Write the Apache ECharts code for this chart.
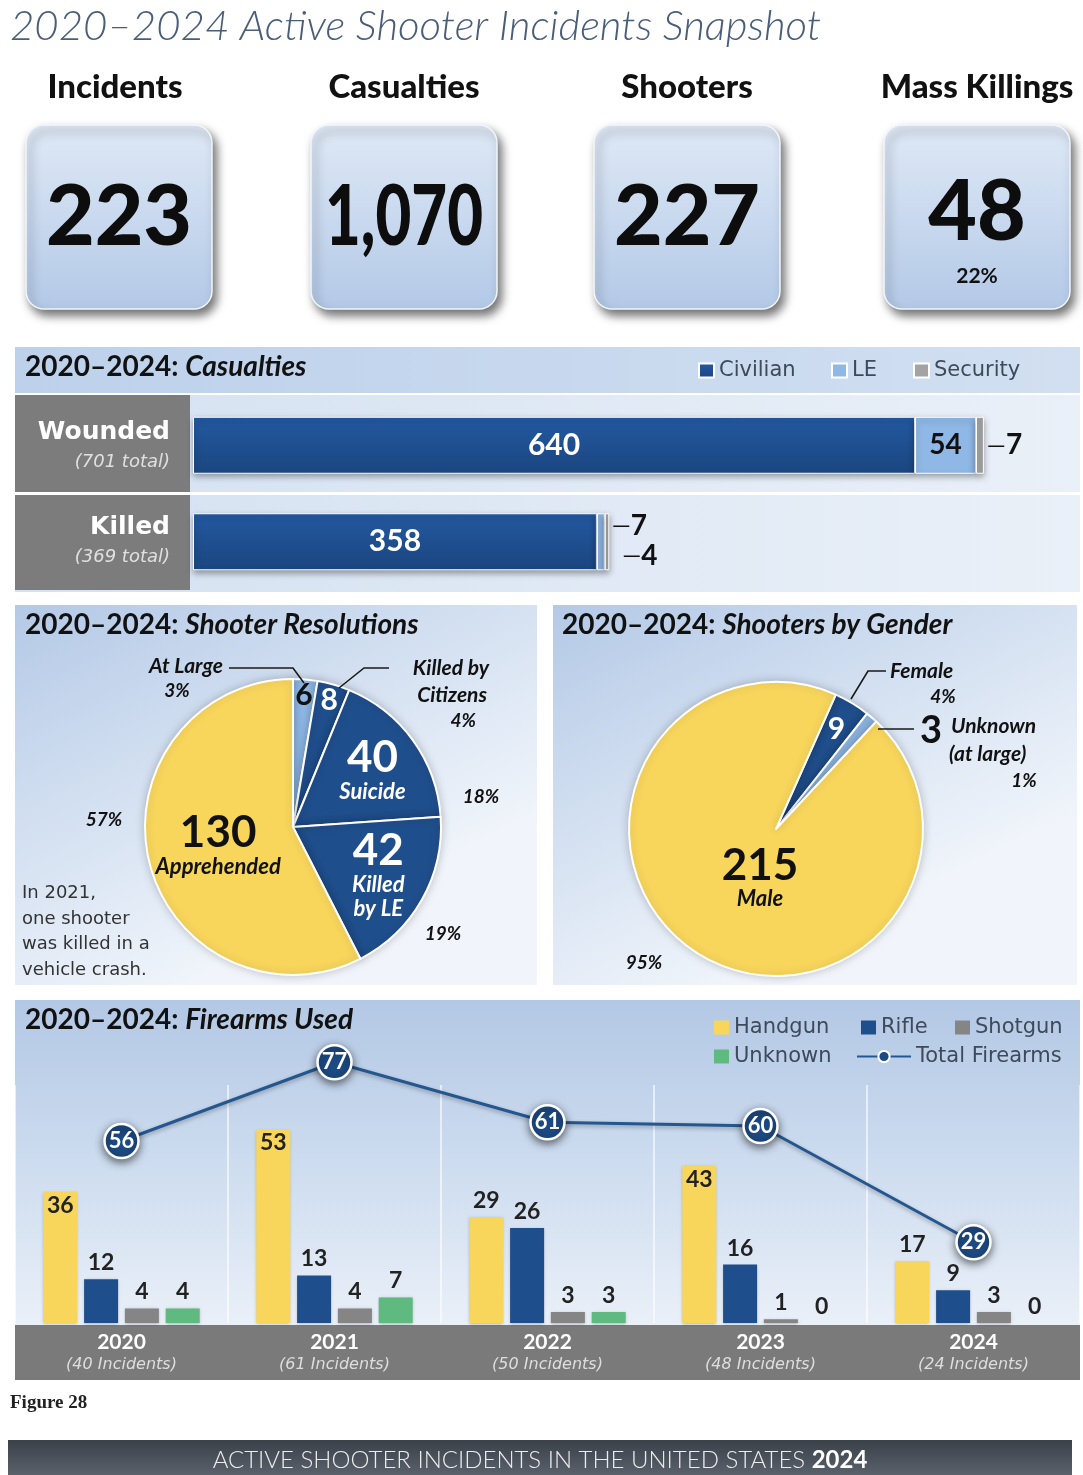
<!DOCTYPE html>
<html>
<head>
<meta charset="utf-8">
<title>2020–2024 Active Shooter Incidents Snapshot</title>
<script src="https://cdn.jsdelivr.net/npm/echarts@6/dist/echarts.min.js"></script>
<style>
html, body { margin: 0; padding: 0; background: #ffffff; }
#chart { width: 1083px; height: 1475px; }
</style>
</head>
<body>
<div id="chart"></div>
<script>
// ---- Headline figures ----
const snapshotLabels = ['Incidents', 'Casualties', 'Shooters', 'Mass Killings'];
const snapshotValues = ['223', '1,070', '227', '48'];
const snapshotNotes = ['', '', '', '22%'];

// ---- Casualties by victim type ----
const casualtyRows = ['Wounded', 'Killed'];
const casualtyTotals = [701, 369];
const civilianCasualties = [640, 358];
const leCasualties = [54, 7];
const securityCasualties = [7, 4];

// ---- Shooter resolutions ----
const resolutionNames = ['At Large', 'Killed by Citizens', 'Suicide', 'Killed by LE', 'Apprehended'];
const resolutionValues = [6, 8, 40, 42, 130];
const resolutionPercents = ['3%', '4%', '18%', '19%', '57%'];

// ---- Shooters by gender ----
const genderNames = ['Female', 'Unknown (at large)', 'Male'];
const genderValues = [9, 3, 215];
const genderPercents = ['4%', '1%', '95%'];

// ---- Firearms used per year ----
const years = ['2020', '2021', '2022', '2023', '2024'];
const yearIncidents = [40, 61, 50, 48, 24];
const handgunCounts = [36, 53, 29, 43, 17];
const rifleCounts = [12, 13, 26, 16, 9];
const shotgunCounts = [4, 4, 3, 1, 3];
const unknownCounts = [4, 7, 3, 0, 0];
const totalFirearms = [56, 77, 61, 60, 29];

// ---- palette & fonts ----
const NAVY = '#1f4e8c';
const LIGHT_BLUE = '#8fb8e6';
const YELLOW = '#f8d65c';
const GRAY = '#858585';
const GREEN = '#5fba7f';
const HEAD = 'Lato';

const chart = echarts.init(document.getElementById('chart'));

const measureCtx = document.createElement('canvas').getContext('2d');
function textWidth(str, font) { measureCtx.font = font; return measureCtx.measureText(str).width; }
function lg(x2, y2, colors) {
  return new echarts.graphic.LinearGradient(0, 0, x2, y2,
    colors.map((c, i) => ({ offset: i / (colors.length - 1), color: c })));
}

// ---- decorative layer: panels, headings, callouts ----
const g = [];
function addText(x, y, text, font, fill, align, extra) {
  g.push({
    type: 'text', x: x, y: y, z: 30, silent: true,
    style: Object.assign({
      text: text, font: font, fill: fill || '#111',
      textAlign: align || 'left', textVerticalAlign: 'middle',
      align: align || 'left', verticalAlign: 'middle'
    }, extra || {})
  });
}
function addRect(x, y, w, h, fill, style, z, r) {
  g.push({
    type: 'rect', z: z == null ? -10 : z, silent: true,
    shape: { x: x, y: y, width: w, height: h, r: r || 0 },
    style: Object.assign({ fill: fill }, style || {})
  });
}
function addLine(points) {
  g.push({ type: 'polyline', z: 30, silent: true, shape: { points: points },
    style: { stroke: '#1a1a1a', lineWidth: 1.6, fill: null } });
}
function addTitle(x, y, name) {
  addText(x, y, '{a|2020–2024: }{b|' + name + '}', 'bold 28px Lato', '#111', 'left', {
    rich: {
      a: { fontFamily: HEAD, fontWeight: 'bold', fontSize: 28, fill: '#111', color: '#111' },
      b: { fontFamily: HEAD, fontWeight: 'bold', fontStyle: 'italic', fontSize: 28, fill: '#111', color: '#111' }
    }
  });
}

// page title
addText(10, 26, '2020–2024 Active Shooter Incidents Snapshot', 'italic 300 42px Lato', '#4b5e78', 'left');

// headline cards
const cardLeft = [26, 311, 594, 884];
const cardW = 186, cardTop = 125, cardH = 184;
snapshotLabels.forEach((label, i) => {
  const cx = cardLeft[i] + cardW / 2;
  addText(i === 0 ? cx - 4 : cx, 87, label, '900 33px Lato', '#111', 'center');
  addRect(cardLeft[i], cardTop, cardW, cardH, lg(0, 1, ['#dfe9f6', '#b3c9e7']), {
    stroke: '#f2f6fb', lineWidth: 1.5, shadowBlur: 10, shadowOffsetX: 4, shadowOffsetY: 6,
    shadowColor: 'rgba(0,0,0,0.55)'
  }, 0, 18);
  const numFont = '900 84px Lato';
  const s = Math.min(1, 158 / textWidth(snapshotValues[i], numFont));
  g.push({
    type: 'text', x: cx, y: snapshotNotes[i] ? 213 : 218, scaleX: s, z: 31, silent: true,
    style: { text: snapshotValues[i], font: numFont, fill: '#0d0d0d',
      textAlign: 'center', textVerticalAlign: 'middle', align: 'center', verticalAlign: 'middle' }
  });
  if (snapshotNotes[i]) addText(cx, 276, snapshotNotes[i], 'bold 21px Lato', '#111', 'center');
});

// casualties panel
addRect(15, 347, 1065, 46, lg(1, 0, ['#bdd1eb', '#d1dff1']));
addRect(15, 395, 1065, 197, lg(1, 0, ['#d4e1f1', '#eaf0f8']));
addRect(15, 492, 1065, 3, '#ffffff', null, -9);
addRect(15, 395, 175, 97, '#7c7c7c', null, -8);
addRect(15, 495, 175, 95, '#7c7c7c', null, -8);
addTitle(25, 367, 'Casualties');
const rowMid = [446, 541];
casualtyRows.forEach((row, i) => {
  addText(170, rowMid[i] - 14, row, 'bold 25px "DejaVu Sans"', '#ffffff', 'right');
  addText(170, rowMid[i] + 16, '(' + casualtyTotals[i] + ' total)', 'italic 18px "DejaVu Sans"', '#e0e0e0', 'right');
});

// shooter resolutions panel
addRect(15, 605, 522, 380, lg(0.35, 1, ['#b4c9e6', '#d3e0f1', '#f1f5fb']));
addTitle(25, 625, 'Shooter Resolutions');
const calloutFont = 'bold italic 21px Lato';
const pctFont = 'bold italic 19px Lato';
addText(223, 666, resolutionNames[0], calloutFont, '#111', 'right');
addText(177, 691, resolutionPercents[0], pctFont, '#111', 'center');
addLine([[229, 668], [293, 668], [304, 683]]);
addText(489, 668, 'Killed by', calloutFont, '#111', 'right');
addText(487, 695, 'Citizens', calloutFont, '#111', 'right');
addText(476, 721, resolutionPercents[1], pctFont, '#111', 'right');
addLine([[389, 668], [364, 668], [339, 688]]);
addText(481, 797, resolutionPercents[2], pctFont, '#111', 'center');
addText(443, 934, resolutionPercents[3], pctFont, '#111', 'center');
addText(104, 820, resolutionPercents[4], pctFont, '#111', 'center');
addText(22, 932, 'In 2021,\none shooter\nwas killed in a\nvehicle crash.', '18px "DejaVu Sans"', '#333', 'left', { lineHeight: 25.5 });

// shooters by gender panel
addRect(553, 605, 524, 380, lg(0.35, 1, ['#b4c9e6', '#d3e0f1', '#f1f5fb']));
addTitle(562, 625, 'Shooters by Gender');
addText(890, 671, genderNames[0], calloutFont, '#111', 'left');
addText(943, 697, genderPercents[0], pctFont, '#111', 'center');
addLine([[886, 671], [868, 671], [851, 699]]);
addLine([[878, 729], [914, 729]]);
addText(931, 731, String(genderValues[1]), 'bold 38px Lato', '#111', 'center');
addText(951, 726, 'Unknown', calloutFont, '#111', 'left');
addText(949, 754, '(at large)', calloutFont, '#111', 'left');
addText(1024, 781, genderPercents[1], pctFont, '#111', 'center');
addText(644, 963, genderPercents[2], pctFont, '#111', 'center');

// firearms panel
addRect(15, 1000, 1065, 326, lg(0, 1, ['#b3c8e5', '#cddcef', '#eaf0f8']));
addRect(15, 1325, 1065, 55, '#7a7a7a', null, -9);
addTitle(25, 1020, 'Firearms Used');

// figure caption and running footer
addText(10, 1403, 'Figure 28', 'bold 19px "Liberation Serif"', '#222', 'left');
addRect(8, 1440, 1064, 35, lg(0, 1, ['#3a4149', '#5a616b']), null, -10);
addText(540, 1460, '{a|ACTIVE SHOOTER INCIDENTS IN THE UNITED STATES }{b|2024}', '300 24px Lato', '#eeeeee', 'center', {
  rich: {
    a: { fontFamily: HEAD, fontWeight: 300, fontSize: 24, fill: '#ececec', color: '#ececec' },
    b: { fontFamily: HEAD, fontWeight: 'bold', fontSize: 24, fill: '#ffffff', color: '#ffffff' }
  }
});

// ---- legends (one component per entry for exact placement) ----
function legendItem(name, left, top, extra) {
  return Object.assign({
    data: [name], left: left, top: top, padding: 0, itemWidth: 15, itemHeight: 14,
    icon: 'rect', selectedMode: false,
    textStyle: { fontFamily: 'DejaVu Sans', fontSize: 21, color: '#3e4a5a' }
  }, extra || {});
}
const legends = [
  legendItem('Civilian', 698, 360),
  legendItem('LE', 831, 360),
  legendItem('Security', 913, 360),
  legendItem('Handgun', 714, 1017),
  legendItem('Rifle', 861, 1017),
  legendItem('Shotgun', 955, 1017),
  legendItem('Unknown', 714, 1046),
  legendItem('Total Firearms', 856, 1046, { icon: null, itemWidth: 54, itemHeight: 14 })
];

// ---- series ----
const barShadow = { shadowBlur: 6, shadowOffsetY: 3, shadowColor: 'rgba(0,0,0,0.35)' };
const casualtyScale = 880 / 780;  // px per casualty (matches xAxis max)

function outsideLabel(dy, dx) {
  return {
    show: true, position: 'right', distance: 3 + (dx || 0), offset: [0, dy],
    formatter: p => '{d|—}{n|' + p.value + '}',
    rich: {
      d: { fontFamily: HEAD, fontSize: 24, color: '#111' },
      n: { fontFamily: HEAD, fontWeight: 'bold', fontSize: 28, color: '#111' }
    }
  };
}

const casualtySeries = [
  {
    name: 'Civilian', type: 'bar', xAxisIndex: 0, yAxisIndex: 0, stack: 'cas', barWidth: 57,
    data: civilianCasualties,
    itemStyle: Object.assign({ color: lg(0, 1, ['#2358a0', '#1b4680']), borderColor: '#ffffff', borderWidth: 1 }, barShadow),
    label: { show: true, position: 'inside', color: '#ffffff', fontFamily: HEAD, fontWeight: 'bold', fontSize: 30 }
  },
  {
    name: 'LE', type: 'bar', xAxisIndex: 0, yAxisIndex: 0, stack: 'cas', barWidth: 57,
    data: leCasualties.map(v => v * casualtyScale > 40
      ? { value: v, label: { show: true, position: 'inside', color: '#111', fontFamily: HEAD, fontWeight: 'bold', fontSize: 28 } }
      : { value: v, label: outsideLabel(-16, 4) }),
    itemStyle: Object.assign({ color: LIGHT_BLUE, borderColor: '#ffffff', borderWidth: 1 }, barShadow)
  },
  {
    name: 'Security', type: 'bar', xAxisIndex: 0, yAxisIndex: 0, stack: 'cas', barWidth: 57,
    data: securityCasualties.map((v, i) => ({
      value: v,
      label: leCasualties[i] * casualtyScale > 40 ? outsideLabel(0, 0) : outsideLabel(14, 10)
    })),
    itemStyle: Object.assign({ color: '#a3a3a3', borderColor: '#ffffff', borderWidth: 1 }, barShadow)
  }
];

const barLabel = { show: true, position: 'top', distance: 5, color: '#222', fontFamily: HEAD, fontWeight: 'bold', fontSize: 23 };
function firearmBar(name, data, color) {
  return {
    name: name, type: 'bar', xAxisIndex: 1, yAxisIndex: 1, barWidth: 34, barGap: '20%',
    data: data.map(v => ({
      value: v,
      // tall handgun bars carry their count just inside the top edge
      label: (name === 'Handgun' && v >= 30) ? Object.assign({}, barLabel, { position: 'insideTop', distance: 2 }) : barLabel
    })),
    itemStyle: { color: color, shadowBlur: 3, shadowOffsetY: 1, shadowColor: 'rgba(0,0,0,0.25)' }
  };
}
const firearmSeries = [
  firearmBar('Handgun', handgunCounts, YELLOW),
  firearmBar('Rifle', rifleCounts, NAVY),
  firearmBar('Shotgun', shotgunCounts, GRAY),
  firearmBar('Unknown', unknownCounts, GREEN),
  {
    name: 'Total Firearms', type: 'line', xAxisIndex: 1, yAxisIndex: 2, data: totalFirearms,
    clip: false, z: 6, symbol: 'circle', symbolSize: 34,
    lineStyle: { color: '#24568f', width: 3, shadowBlur: 4, shadowOffsetY: 2, shadowColor: 'rgba(0,0,0,0.3)' },
    itemStyle: { color: '#1d4a82', borderColor: '#ffffff', borderWidth: 2.5, shadowBlur: 8, shadowOffsetY: 3, shadowColor: 'rgba(0,0,0,0.55)' },
    label: { show: true, position: 'inside', color: '#ffffff', fontFamily: HEAD, fontWeight: 'bold', fontSize: 22 }
  }
];

// pies: a filled pie plus transparent rings that carry labels at chosen radii
const clear = { color: 'rgba(0,0,0,0)', borderWidth: 0 };
function pieBase(center, radius, startAngle, data, extra) {
  return Object.assign({
    type: 'pie', center: center, radius: radius, startAngle: startAngle, clockwise: true,
    silent: true, animation: false, avoidLabelOverlap: false,
    label: { show: false }, labelLine: { show: false }, emphasis: { disabled: true },
    data: data
  }, extra || {});
}
const bigNum = (color) => ({ fontFamily: HEAD, fontWeight: 'bold', fontSize: 44, color: color, lineHeight: 44 });
const sliceName = (color) => ({ fontFamily: HEAD, fontWeight: 'bold', fontStyle: 'italic', fontSize: 22, color: color, lineHeight: 24 });
const innerLabel = (color, text) => ({
  show: true, position: 'inside',
  formatter: p => '{v|' + p.value + '}\n' + text.split('\n').map(t => '{n|' + t + '}').join('\n'),
  rich: { v: bigNum(color), n: sliceName(color) }
});
const smallLabel = (color) => ({ show: true, position: 'inside', formatter: '{c}', color: color, fontFamily: HEAD, fontWeight: 'bold', fontSize: 30 });

const resCenter = [293, 827], resR = 148;
const resColors = [LIGHT_BLUE, NAVY, NAVY, NAVY, YELLOW];
const resInner = { 'Suicide': 'Suicide', 'Killed by LE': 'Killed\nby LE' };
const resolutionSeries = [
  pieBase(resCenter, [0, resR], 90, resolutionNames.map((n, i) => ({
    name: n, value: resolutionValues[i], itemStyle: { color: resColors[i] },
    label: n === 'Apprehended' ? innerLabel('#111', 'Apprehended') : { show: false }
  })), { itemStyle: { borderColor: '#ffffff', borderWidth: 2, shadowBlur: 8, shadowColor: 'rgba(0,0,0,0.2)' } }),
  pieBase(resCenter, [60, 130], 90, resolutionNames.map((n, i) => ({
    name: n, value: resolutionValues[i], itemStyle: clear,
    label: resInner[n] ? innerLabel('#ffffff', resInner[n]) : { show: false }
  }))),
  pieBase(resCenter, [110, 148], 90, resolutionNames.map((n, i) => ({
    name: n, value: resolutionValues[i], itemStyle: clear,
    label: i < 2 ? smallLabel(i === 0 ? '#111' : '#ffffff') : { show: false }
  })))
];

const genCenter = [776, 829], genR = 147;
const genColors = [NAVY, LIGHT_BLUE, YELLOW];
const genderSeries = [
  pieBase(genCenter, [0, genR], 66, genderNames.map((n, i) => ({
    name: n, value: genderValues[i], itemStyle: { color: genColors[i] }
  })), { itemStyle: { borderColor: '#ffffff', borderWidth: 2, shadowBlur: 8, shadowColor: 'rgba(0,0,0,0.2)' } }),
  pieBase(genCenter, [0, 110], 66, genderNames.map((n, i) => ({
    name: n, value: genderValues[i], itemStyle: clear,
    label: n === 'Male' ? innerLabel('#111', 'Male') : { show: false }
  })), { labelLayout: { dx: 16 } }),
  pieBase(genCenter, [80, 148], 66, genderNames.map((n, i) => ({
    name: n, value: genderValues[i], itemStyle: clear,
    label: n === 'Female' ? smallLabel('#ffffff') : { show: false }
  })))
];

const option = {
  animation: false,
  backgroundColor: '#ffffff',
  textStyle: { fontFamily: HEAD },
  graphic: { elements: g },
  legend: legends,
  grid: [
    { left: 193, top: 397, width: 880, height: 193, containLabel: false, outerBoundsMode: 'none' },
    { left: 15, top: 1085, width: 1065, height: 238, containLabel: false, outerBoundsMode: 'none' }
  ],
  xAxis: [
    { gridIndex: 0, type: 'value', min: 0, max: 780, show: false },
    {
      gridIndex: 1, type: 'category', data: years,
      axisLine: { show: false }, axisTick: { show: false },
      splitLine: { show: true, lineStyle: { color: 'rgba(255,255,255,0.8)', width: 1.5 } },
      axisLabel: {
        interval: 0, margin: 7,
        formatter: (v, i) => '{y|' + v + '}\n{i|(' + yearIncidents[i] + ' Incidents)}',
        rich: {
          y: { fontFamily: HEAD, fontWeight: 'bold', fontSize: 21, color: '#ffffff', lineHeight: 24 },
          i: { fontFamily: 'DejaVu Sans', fontStyle: 'italic', fontSize: 16, color: '#dedede', lineHeight: 22 }
        }
      }
    }
  ],
  yAxis: [
    { gridIndex: 0, type: 'category', data: casualtyRows, inverse: true, show: false },
    { gridIndex: 1, type: 'value', min: 0, max: 65.2, show: false },
    { gridIndex: 1, type: 'value', min: 7.47, max: 70.94, show: false }
  ],
  series: casualtySeries.concat(firearmSeries, resolutionSeries, genderSeries)
};

chart.setOption(option);
</script>
</body>
</html>
